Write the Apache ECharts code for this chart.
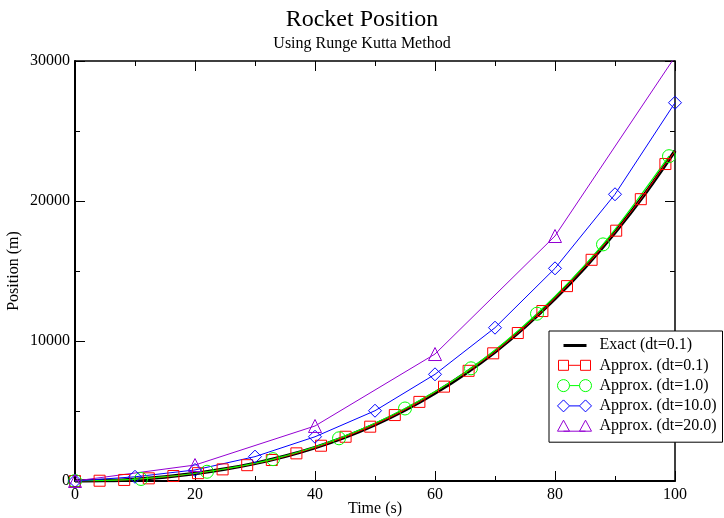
<!DOCTYPE html>
<html>
<head>
<meta charset="utf-8">
<script src="https://cdn.jsdelivr.net/npm/echarts@6/dist/echarts.min.js"></script>
<style>
  html, body { margin: 0; padding: 0; background: #fff; }
  #chart { width: 724px; height: 518px; }
</style>
</head>
<body>
<div id="chart"></div>
<script>
// exact solution (dt=0.1), read every 5 s
var exactTime = [0, 5, 10, 15, 20, 25, 30, 35, 40, 45, 50, 55, 60, 65, 70, 75, 80, 85, 90, 95, 100];
var exactPos = [0, 30, 115, 285, 530, 850, 1260, 1765, 2385, 3135, 4025, 5070, 6285, 7665, 9230, 11020, 13030, 15270, 17760, 20520, 23580];

// RK dt=0.1, markers every 4.1 s (last point at 100 has no marker)
var timeA = [0, 4.1, 8.2, 12.3, 16.4, 20.5, 24.6, 28.7, 32.8, 36.9, 41, 45.1, 49.2, 53.3, 57.4, 61.5, 65.6, 69.7, 73.8, 77.9, 82, 86.1, 90.2, 94.3, 98.4, 100];
var posA = [0, 20, 75, 190, 355, 560, 830, 1130, 1500, 1975, 2520, 3160, 3880, 4710, 5650, 6740, 7870, 9120, 10570, 12140, 13920, 15800, 17880, 20130, 22640, 23560];

// RK dt=1.0, markers every 11 s
var timeB = [0, 11, 22, 33, 44, 55, 66, 77, 88, 99];
var posB = [0, 145, 660, 1560, 3050, 5180, 8050, 11950, 16900, 23200];

// RK dt=10.0
var timeC = [0, 10, 20, 30, 40, 50, 60, 70, 80, 90, 100];
var posC = [0, 300, 790, 1740, 3160, 5020, 7620, 10950, 15190, 20480, 27020];

// RK dt=20.0
var timeD = [0, 20, 40, 60, 80, 100];
var posD = [0, 1140, 3930, 9070, 17500, 30300];

var xTicks = [0, 20, 40, 60, 80, 100];
var yTicks = [0, 10000, 20000, 30000];

var serif = 'Liberation Serif';

function pairs(xs, ys) {
    var out = [];
    for (var i = 0; i < xs.length; i++)
        out.push([xs[i], ys[i]]);
    return out;
}

var dataA = pairs(timeA, posA);
// the line runs on to 100 s but the marker stops at 98.4
dataA[dataA.length - 1] = { value: dataA[dataA.length - 1], symbol: 'none' };

function axisBase(show, pos) {
    return {
        type: 'value',
        position: pos,
        axisLine: { show: true, onZero: false, lineStyle: { color: '#000', width: show ? 2 : 1.5 } },
        axisTick: { show: true, inside: true, length: 10, lineStyle: { color: '#000', width: 1 } },
        minorTick: { show: true, splitNumber: 2, length: 5, lineStyle: { color: '#000', width: 1 } },
        splitLine: { show: false },
        axisLabel: {
            show: show, color: '#000', fontFamily: serif, fontSize: 16,
            formatter: function (v) { return String(v); }
        }
    };
}

var xBottom = axisBase(true, 'bottom');
xBottom.min = xTicks[0];
xBottom.max = xTicks[xTicks.length - 1];
xBottom.interval = 20;
xBottom.axisLabel.margin = 6;
xBottom.name = 'Time (s)';
xBottom.nameLocation = 'middle';
xBottom.nameGap = 20;
xBottom.nameMoveOverlap = false;
xBottom.nameTextStyle = { color: '#000', fontFamily: serif, fontSize: 16 };

var xTop = axisBase(false, 'top');
xTop.min = 0; xTop.max = 100; xTop.interval = 20;

var yLeft = axisBase(true, 'left');
yLeft.min = yTicks[0];
yLeft.max = yTicks[yTicks.length - 1];
yLeft.interval = 10000;
yLeft.axisLabel.margin = 5;
yLeft.name = 'Position (m)';
yLeft.nameLocation = 'middle';
yLeft.nameGap = 53;
yLeft.nameMoveOverlap = false;
yLeft.nameTextStyle = { color: '#000', fontFamily: serif, fontSize: 16 };

var yRight = axisBase(false, 'right');
yRight.min = 0; yRight.max = 30000; yRight.interval = 10000;

// legend icons: marker - line - marker, drawn in a 36x14 box
var box = 'M0,0 L0,0 M36,14 L36,14 ';
var iconSquare = 'path://' + box + 'M2,2 L12,2 L12,12 L2,12 Z M24,2 L34,2 L34,12 L24,12 Z M12,7 L24,7';
var iconCircle = 'path://' + box + 'M1,7 A6,6 0 1,1 13,7 A6,6 0 1,1 1,7 Z M23,7 A6,6 0 1,1 35,7 A6,6 0 1,1 23,7 Z M13,7 L23,7';
var iconDiamond = 'path://' + box + 'M1,7 L7,1 L13,7 L7,13 Z M23,7 L29,1 L35,7 L29,13 Z M13,7 L23,7';
var iconTriangle = 'path://' + box + 'M1,12 L7,1 L13,12 Z M23,12 L29,1 L35,12 Z M7,12 L29,12';
var iconLine = 'path://' + box + 'M7,6 L30,6 L30,9 L7,9 Z';

function markerSeries(name, data, color, symbol, size, width, smooth) {
    return {
        name: name,
        type: 'line',
        data: data,
        symbol: symbol,
        symbolSize: size,
        smooth: smooth,
        lineStyle: { color: color, width: width },
        itemStyle: { color: 'rgba(0,0,0,0)', borderColor: color, borderWidth: 1 },
        emphasis: { disabled: true }
    };
}

var chart = echarts.init(document.getElementById('chart'), null, { renderer: 'canvas' });

var option = {
    animation: false,
    backgroundColor: '#fff',
    title: {
        text: 'Rocket Position',
        subtext: 'Using Runge Kutta Method',
        left: 'center',
        top: 3,
        itemGap: 4,
        textStyle: { color: '#000', fontFamily: serif, fontSize: 24, fontWeight: 'normal' },
        subtextStyle: { color: '#000', fontFamily: serif, fontSize: 16 }
    },
    grid: { left: 75, right: 49, top: 61, bottom: 37, outerBoundsMode: 'none' },
    xAxis: [xBottom, xTop],
    yAxis: [yLeft, yRight],
    legend: {
        orient: 'vertical',
        left: 549,
        top: 331,
        itemWidth: 36,
        itemHeight: 14,
        itemGap: 4.3,
        padding: [6, 6, 8, 7],
        backgroundColor: '#fff',
        borderColor: '#000',
        borderWidth: 1,
        selectedMode: false,
        textStyle: { color: '#000', fontFamily: serif, fontSize: 16, padding: [0, 0, 0, 2] },
        data: [
            { name: 'Exact (dt=0.1)', icon: iconLine, itemStyle: { color: '#000', borderWidth: 0 } },
            { name: 'Approx. (dt=0.1)', icon: iconSquare, itemStyle: { color: 'rgba(0,0,0,0)', borderColor: '#ff0000', borderWidth: 1 } },
            { name: 'Approx. (dt=1.0)', icon: iconCircle, itemStyle: { color: 'rgba(0,0,0,0)', borderColor: '#00ff00', borderWidth: 1 } },
            { name: 'Approx. (dt=10.0)', icon: iconDiamond, itemStyle: { color: 'rgba(0,0,0,0)', borderColor: '#0000ff', borderWidth: 1 } },
            { name: 'Approx. (dt=20.0)', icon: iconTriangle, itemStyle: { color: 'rgba(0,0,0,0)', borderColor: '#9400d3', borderWidth: 1 } }
        ]
    },
    series: [
        {
            name: 'Exact (dt=0.1)',
            type: 'line',
            data: pairs(exactTime, exactPos),
            symbol: 'none',
            smooth: 0.3,
            lineStyle: { color: '#000', width: 3.5 },
            itemStyle: { color: '#000' },
            emphasis: { disabled: true }
        },
        markerSeries('Approx. (dt=0.1)', dataA, '#ff0000', 'rect', 11, 1, false),
        markerSeries('Approx. (dt=1.0)', pairs(timeB, posB), '#00ff00', 'circle', 13, 1.2, 0.3),
        markerSeries('Approx. (dt=10.0)', pairs(timeC, posC), '#0000ff', 'diamond', 13, 1, false),
        markerSeries('Approx. (dt=20.0)', pairs(timeD, posD), '#9400d3', 'triangle', 13, 1, false)
    ]
};

chart.setOption(option);
</script>
</body>
</html>
